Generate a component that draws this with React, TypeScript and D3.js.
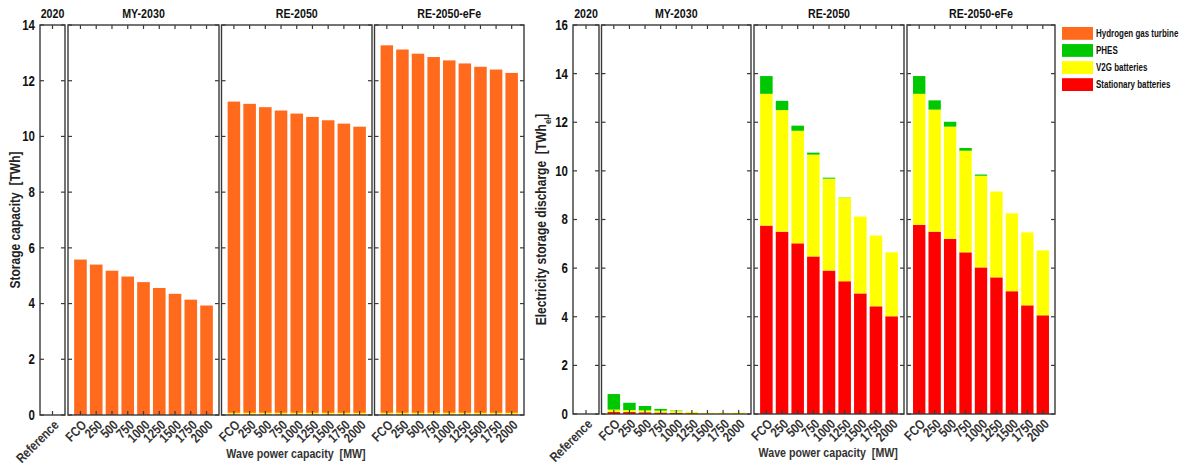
import * as d3 from "d3";

// ---- data ----
const scenarios = ["2020", "MY-2030", "RE-2050", "RE-2050-eFe"];
const referenceCategories = ["Reference"];
const waveCategories = ["FCO", "250", "500", "750", "1000", "1250", "1500", "1750", "2000"];
const technologies = ["Hydrogen gas turbine", "PHES", "V2G batteries", "Stationary batteries"];
const techColors = ["#FF6A1C", "#00C800", "#FFFF00", "#FF0000"];
// stacking order, bottom first
const stackOrder = ["Stationary batteries", "V2G batteries", "PHES", "Hydrogen gas turbine"];

const capacityTicks = [0, 2, 4, 6, 8, 10, 12, 14];
const dischargeTicks = [0, 2, 4, 6, 8, 10, 12, 14, 16];

// Storage capacity [TWh]
const capRef = [0];
const capH2_MY2030 = [5.58, 5.4, 5.18, 4.97, 4.77, 4.56, 4.35, 4.14, 3.93];
const capH2_RE2050 = [11.17, 11.09, 10.97, 10.85, 10.74, 10.62, 10.5, 10.38, 10.27];
const capH2_RE2050eFe = [13.19, 13.04, 12.89, 12.77, 12.65, 12.54, 12.42, 12.32, 12.2];
const capV2G_RE2050 = [0.06, 0.06, 0.06, 0.06, 0.06, 0.06, 0.06, 0.06, 0.06];
const capV2G_RE2050eFe = [0.06, 0.06, 0.06, 0.06, 0.06, 0.06, 0.06, 0.06, 0.06];
const capStat_RE2050 = [0.02, 0.02, 0.02, 0.02, 0.02, 0.02, 0.02, 0.02, 0.02];
const capStat_RE2050eFe = [0.02, 0.02, 0.02, 0.02, 0.02, 0.02, 0.02, 0.02, 0.02];
const zeros9 = [0, 0, 0, 0, 0, 0, 0, 0, 0];

// Electricity storage discharge [TWh_el]
const disRef = [0];
const disStat_MY2030 = [0.08, 0.08, 0.07, 0.06, 0.05, 0.03, 0, 0, 0];
const disV2G_MY2030 = [0.1, 0.08, 0.08, 0.08, 0.07, 0.06, 0.05, 0.05, 0.06];
const disPHES_MY2030 = [0.64, 0.3, 0.18, 0.07, 0.02, 0, 0, 0, 0];
const disStat_RE2050 = [7.75, 7.5, 7.02, 6.48, 5.9, 5.46, 4.96, 4.43, 4.02];
const disV2G_RE2050 = [5.42, 5.0, 4.63, 4.19, 3.78, 3.44, 3.16, 2.91, 2.63];
const disPHES_RE2050 = [0.73, 0.38, 0.21, 0.08, 0.04, 0.01, 0, 0, 0];
const disStat_RE2050eFe = [7.78, 7.5, 7.2, 6.65, 6.03, 5.62, 5.05, 4.47, 4.06];
const disV2G_RE2050eFe = [5.39, 5.02, 4.62, 4.18, 3.77, 3.53, 3.2, 3.0, 2.67];
const disPHES_RE2050eFe = [0.73, 0.38, 0.2, 0.11, 0.05, 0, 0, 0, 0];

type PanelData = { cats: string[]; series: Record<string, number[]> };

const capacityPanels: PanelData[] = [
  { cats: referenceCategories, series: { "Hydrogen gas turbine": capRef, PHES: capRef, "V2G batteries": capRef, "Stationary batteries": capRef } },
  { cats: waveCategories, series: { "Hydrogen gas turbine": capH2_MY2030, PHES: zeros9, "V2G batteries": zeros9, "Stationary batteries": zeros9 } },
  { cats: waveCategories, series: { "Hydrogen gas turbine": capH2_RE2050, PHES: zeros9, "V2G batteries": capV2G_RE2050, "Stationary batteries": capStat_RE2050 } },
  { cats: waveCategories, series: { "Hydrogen gas turbine": capH2_RE2050eFe, PHES: zeros9, "V2G batteries": capV2G_RE2050eFe, "Stationary batteries": capStat_RE2050eFe } },
];

const dischargePanels: PanelData[] = [
  { cats: referenceCategories, series: { "Hydrogen gas turbine": disRef, PHES: disRef, "V2G batteries": disRef, "Stationary batteries": disRef } },
  { cats: waveCategories, series: { "Hydrogen gas turbine": zeros9, PHES: disPHES_MY2030, "V2G batteries": disV2G_MY2030, "Stationary batteries": disStat_MY2030 } },
  { cats: waveCategories, series: { "Hydrogen gas turbine": zeros9, PHES: disPHES_RE2050, "V2G batteries": disV2G_RE2050, "Stationary batteries": disStat_RE2050 } },
  { cats: waveCategories, series: { "Hydrogen gas turbine": zeros9, PHES: disPHES_RE2050eFe, "V2G batteries": disV2G_RE2050eFe, "Stationary batteries": disStat_RE2050eFe } },
];

const color = d3.scaleOrdinal<string, string>().domain(technologies).range(techColors);

const FONT = "'Liberation Sans', Arial, sans-serif";
const FRAME = "#3a3a3a";
const TICK = 4;

// text drawn with a horizontal squeeze to mimic the narrow font of the original
function Txt({ x, y, rotate = 0, anchor = "start", size = 12.5, fill = "#111", dy, squeeze = 0.82, children }: any) {
  return (
    <text
      transform={`translate(${x},${y}) rotate(${rotate}) scale(${squeeze},1)`}
      textAnchor={anchor}
      fontSize={size}
      fontWeight="bold"
      fill={fill}
      dy={dy}
    >
      {children}
    </text>
  );
}

type ChartProps = {
  panelX: [number, number][];
  top: number;
  bottom: number;
  yMax: number;
  yTicks: number[];
  panels: PanelData[];
  ylabel: React.ReactNode;
  ylabelX: number;
};

function StackedPanels({ panelX, top, bottom, yMax, yTicks, panels, ylabel, ylabelX }: ChartProps) {
  const y = d3.scaleLinear().domain([0, yMax]).range([bottom, top]);
  const stack = d3.stack<any>().keys(stackOrder);
  const xl = panelX[1][0];
  const xr = panelX[panelX.length - 1][1];

  return (
    <g fontFamily={FONT}>
      {yTicks.map((t) => (
        <Txt key={t} x={panelX[0][0] - 5} y={y(t)} dy="0.35em" anchor="end" size={14}>
          {t}
        </Txt>
      ))}
      <Txt x={ylabelX} y={(top + bottom) / 2} rotate={-90} anchor="middle" size={14} squeeze={0.86} fill="#222">
        {ylabel}
      </Txt>
      {panels.map((p, i) => {
        const [x0, x1] = panelX[i];
        const x = d3.scaleBand<string>().domain(p.cats).range([x0, x1]).paddingInner(0.2).paddingOuter(0.39);
        const rows = p.cats.map((c, j) => {
          const r: any = { cat: c };
          stackOrder.forEach((k) => (r[k] = p.series[k][j]));
          return r;
        });
        const layers = stack(rows);
        return (
          <g key={i}>
            {layers.map((layer) => (
              <g key={layer.key} fill={color(layer.key)}>
                {layer.map((d, j) =>
                  d[1] - d[0] > 0 ? (
                    <rect
                      key={j}
                      x={x(p.cats[j])!}
                      width={x.bandwidth()}
                      y={y(d[1])}
                      height={y(d[0]) - y(d[1])}
                    />
                  ) : null
                )}
              </g>
            ))}
            <rect x={x0} y={top} width={x1 - x0} height={bottom - top} fill="none" stroke={FRAME} strokeWidth={1.4} />
            {p.cats.map((c) => {
              const cx = x(c)! + x.bandwidth() / 2;
              return (
                <g key={c} stroke={FRAME} strokeWidth={1.2}>
                  <line x1={cx} x2={cx} y1={bottom} y2={bottom - TICK} />
                  <line x1={cx} x2={cx} y1={top} y2={top + TICK} />
                </g>
              );
            })}
            {yTicks.map((t) => (
              <g key={t} stroke={FRAME} strokeWidth={1.2}>
                <line x1={x0} x2={x0 + TICK} y1={y(t)} y2={y(t)} />
                <line x1={x1} x2={x1 - TICK} y1={y(t)} y2={y(t)} />
              </g>
            ))}
            {p.cats.map((c) => {
              const cx = x(c)! + x.bandwidth() / 2;
              return (
                <Txt key={c} x={cx + 7} y={bottom + 11} rotate={-45} anchor="end" size={13.5} fill="#333">
                  {c}
                </Txt>
              );
            })}
            <Txt x={(x0 + x1) / 2} y={top - 7} anchor="middle" size={13}>
              {scenarios[i]}
            </Txt>
          </g>
        );
      })}
      <Txt x={(xl + xr) / 2} y={bottom + 43} anchor="middle" size={13} fill="#333">
        Wave power capacity{"\u00A0\u00A0"}[MW]
      </Txt>
    </g>
  );
}

export default function App() {
  const leftPanels: [number, number][] = [
    [40, 65],
    [68, 219],
    [221.5, 372],
    [374.5, 524],
  ];
  const rightPanels: [number, number][] = [
    [573, 599],
    [601.5, 751],
    [754, 904],
    [907, 1055],
  ];
  const legendY = d3.scaleBand<string>().domain(technologies).range([27, 91]).paddingInner(0.25);

  return (
    <svg width={1187} height={468} style={{ position: "absolute", left: 0, top: 0, background: "#fff" }}>
      <StackedPanels
        panelX={leftPanels}
        top={25}
        bottom={415}
        yMax={14}
        yTicks={capacityTicks}
        panels={capacityPanels}
        ylabel={<>Storage capacity{"\u00A0\u00A0"}[TWh]</>}
        ylabelX={20}
      />
      <StackedPanels
        panelX={rightPanels}
        top={25}
        bottom={414}
        yMax={16}
        yTicks={dischargeTicks}
        panels={dischargePanels}
        ylabel={
          <>
            Electricity storage discharge{"\u00A0\u00A0"}[TWh
            <tspan baselineShift="sub" fontSize={9}>el</tspan>]
          </>
        }
        ylabelX={546}
      />
      <g fontFamily={FONT}>
        {technologies.map((t) => (
          <g key={t}>
            <rect x={1062} y={legendY(t)!} width={31} height={legendY.bandwidth()} fill={color(t)} />
            <Txt x={1096} y={legendY(t)! + legendY.bandwidth() / 2} dy="0.35em" size={10.5} squeeze={0.76}>
              {t}
            </Txt>
          </g>
        ))}
      </g>
    </svg>
  );
}
